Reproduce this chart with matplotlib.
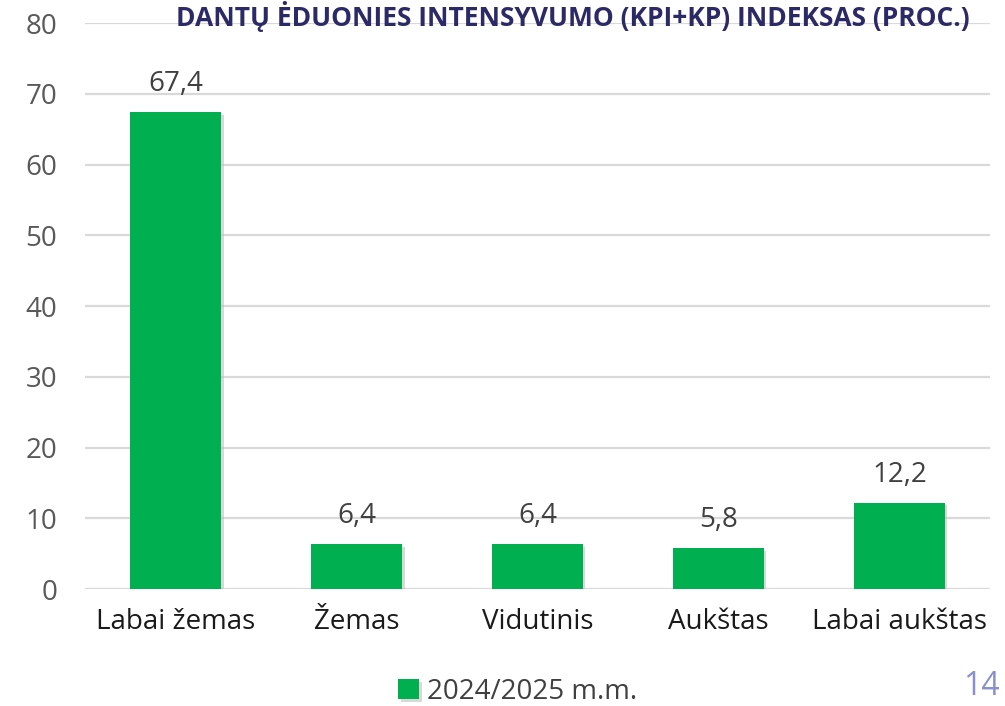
import matplotlib.pyplot as plt
import matplotlib.patheffects as pe

categories = ['Labai žemas', 'Žemas', 'Vidutinis', 'Aukštas', 'Labai aukštas']
values = [67.4, 6.4, 6.4, 5.8, 12.2]
series_name = '2024/2025 m.m.'
title = 'DANTŲ ĖDUONIES INTENSYVUMO (KPI+KP) INDEKSAS (PROC.)'

plt.rcParams['font.family'] = ['Open Sans', 'DejaVu Sans']

fig = plt.figure(figsize=(10.05, 7.06), dpi=100)
ax = fig.add_axes([0.0846, 0.1657, 0.9004, 0.8017])

x = range(len(categories))
bars = ax.bar(x, values, width=0.5, color='#00B050', label=series_name, zorder=3)
for bar in bars:
    bar.set_path_effects([pe.SimplePatchShadow(offset=(2, -2), shadow_rgbFace='#BFBFBF', alpha=0.6),
                          pe.Normal()])

for bar, v in zip(bars, values):
    ax.text(bar.get_x() + bar.get_width() / 2, v + 2.0, f'{v:.1f}'.replace('.', ','),
            ha='center', va='bottom', fontsize=20, color='#404040')

ax.set_xlim(-0.5, 4.5)
ax.set_ylim(0, 80)
ax.set_yticks(range(0, 81, 10))
ax.set_xticks(list(x))
ax.set_xticklabels(categories, fontsize=20, color='#1A1A1A')
ax.tick_params(axis='y', labelsize=20, labelcolor='#595959', length=0, pad=20)
ax.tick_params(axis='x', length=0, pad=14)
ax.grid(axis='y', color='#D9D9D9', linewidth=1.6, zorder=0)
for s in ax.spines.values():
    s.set_visible(False)

fig.legend(loc='lower center', bbox_to_anchor=(0.515, -0.035), frameon=False,
           fontsize=20, handlelength=0.75, handleheight=0.75, handletextpad=0.3,
           labelcolor='#404040')

fig.text(0.995, 0.004, '14', ha='right', va='bottom', fontsize=23, color='#8A90CC')
fig.text(0.57, 0.999, title, ha='center', va='top', fontsize=19, fontweight='bold',
         color='#2B2A66')

fig.savefig('out.png', dpi=100)
